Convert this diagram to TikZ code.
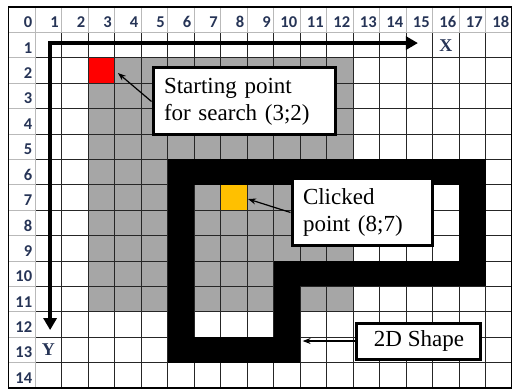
\documentclass[tikz,border=0pt]{standalone}
\usepackage{fontspec}
\setmainfont{Liberation Serif}
\newfontfamily\hdrfont{Carlito}
\usepackage{tikz}
\usetikzlibrary{positioning, arrows.meta}
\definecolor{cellgray}{RGB}{166,166,166}
\definecolor{hdrblue}{RGB}{38,52,86}
\definecolor{clickorange}{RGB}{255,192,0}

\begin{document}
\begin{tikzpicture}[
  x=26.5bp, y=-25.4bp,
  font=\fontsize{23bp}{27bp}\selectfont,
  gridline/.style={black!85, line width=1bp},
  hdrline/.style={gray!55, line width=1bp},
  hdr/.style={anchor=east, inner sep=0pt, text=hdrblue,
    font=\hdrfont\bfseries\fontsize{16.5bp}{18bp}\selectfont},
  axislabel/.style={text=hdrblue, inner sep=0pt,
    font=\bfseries\fontsize{18bp}{20bp}\selectfont},
  axis/.style={line width=3.5bp},
  callout/.style={draw, line width=3bp, fill=white, inner xsep=11bp,
    inner ysep=0pt, align=left},
  pointer/.style={line width=1.2bp, -{Stealth[length=8bp, width=6bp]}},
]
  \useasboundingbox (-0.321,-0.276) rectangle (19,15.08);

  % Cells: search area, start point, clicked point
  \fill[cellgray] (3,2) rectangle (13,12);
  \fill[red] (3,2) rectangle (4,3);
  \fill[clickorange] (8,7) rectangle (9,8);

  % Grid
  \foreach \c in {2,...,18}
    \draw[gridline] (\c,1) -- (\c,15);
  \foreach \r in {2,...,14}
    \draw[gridline] (1,\r) -- (19,\r);
  \foreach \c in {1,...,18}
    \draw[hdrline] (\c,0) -- (\c,1);
  \foreach \r in {1,...,14}
    \draw[hdrline] (0,\r) -- (1,\r);
  \draw[hdrline] (1,1) -- (19,1);
  \draw[hdrline] (1,1) -- (1,15);
  \draw[line width=1.5bp] (0,0) rectangle (19,15);

  % Headers
  \foreach \c in {0,...,18}
    \node[hdr] (col\c) at (\c+0.9,0.6) {\c};
  \foreach \r in {1,...,14}
    \node[hdr] (row\r) at (0.9,\r+0.6) {\r};

  % 2D shape (black ring of cells)
  \foreach \xa/\ya/\xb/\yb in {6/6/18/7, 17/6/18/11, 10/10/18/11,
                               10/10/11/14, 6/13/11/14, 6/6/7/14}
    \fill[black] (\xa,\ya) rectangle (\xb,\yb);

  % Axes
  \coordinate (origin) at (1.57,1.42);
  \coordinate (xend) at (15.45,1.42);
  \coordinate (yend) at (1.57,12.72);
  \draw[axis, {Triangle[length=12bp, width=13bp]}-{Triangle[length=12bp, width=13bp]}]
    (xend) -- (origin) -- (yend);
  \node[axislabel] (xlabel) at (16.5,1.5) {X};
  \node[axislabel] (ylabel) at (1.5,13.5) {Y};

  % Callouts
  \node[callout, text width=160bp, minimum height=67bp] (startbox)
    at (8.887,3.72) {Starting point\\for search (3;2)};
  \node[callout, text width=118bp, minimum height=67bp] (clickbox)
    at (13.34,8.09) {Clicked\\point (8;7)};
  \node[callout, minimum width=124bp, minimum height=36bp, inner xsep=0pt,
    align=center] (shapebox) at (15.49,13.15) {2D Shape};

  \coordinate (startpt) at (4.13,2.6);
  \coordinate (clickpt) at (9.04,7.56);
  \coordinate (shapept) at (11.1,13.15);
  \draw[pointer] (startbox.west) -- (startpt);
  \draw[pointer] (clickbox.west) -- (clickpt);
  \draw[pointer] (shapebox.west) -- (shapept);
\end{tikzpicture}
\end{document}
